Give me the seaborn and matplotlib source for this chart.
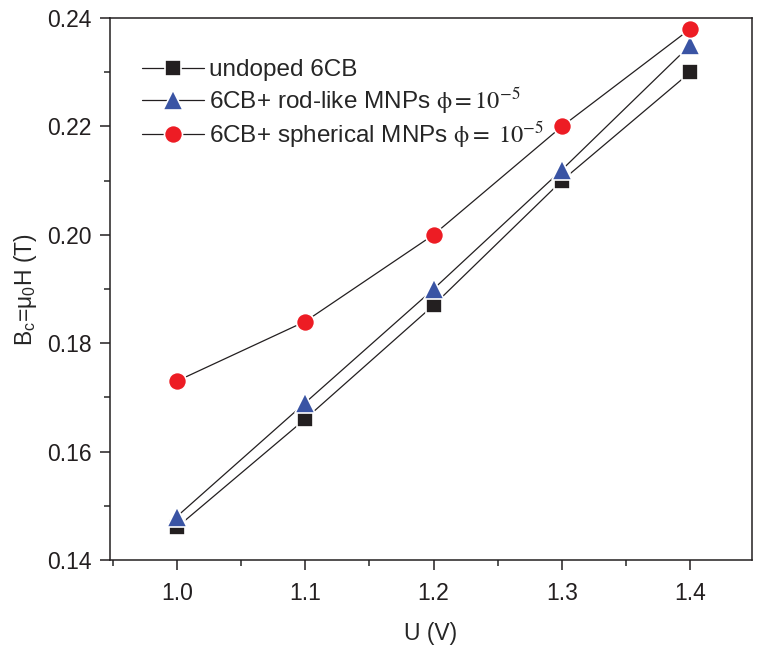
import pandas as pd
import matplotlib
matplotlib.use('Agg')
import matplotlib.pyplot as plt
import seaborn as sns
from matplotlib.ticker import MultipleLocator, FormatStrFormatter

# Datos
voltaje = [1.0, 1.1, 1.2, 1.3, 1.4]
undoped = [0.146, 0.166, 0.187, 0.210, 0.230]
rod_like = [0.148, 0.169, 0.190, 0.212, 0.235]
esferico = [0.173, 0.184, 0.200, 0.220, 0.238]

etiquetas = ['undoped 6CB',
             r'6CB+ rod-like MNPs $\mathrm{\phi{=}10^{-5}}$',
             r'6CB+ spherical MNPs $\mathrm{\phi{=}\ 10^{-5}}$']

sns.set_style('ticks')
plt.rcParams['font.family'] = ['Liberation Sans', 'DejaVu Sans']
plt.rcParams['mathtext.fontset'] = 'stix'
plt.rcParams['mathtext.default'] = 'regular'

fig = plt.figure(figsize=(7.66, 6.47), dpi=100)
ax = fig.add_axes([0.1436, 0.1345, 0.8381, 0.8377])

series = [
    (undoped, etiquetas[0], 's', '#231f20', 11),
    (rod_like, etiquetas[1], '^', '#3a54a4', 14),
    (esferico, etiquetas[2], 'o', '#ed1c24', 13),
]
for valores, etiqueta, marcador, color, tam in series:
    sns.lineplot(x=voltaje, y=valores, ax=ax, label=etiqueta,
                 color='#231f20', linewidth=0.9, marker=marcador,
                 markersize=tam, markerfacecolor=color,
                 markeredgecolor='white', markeredgewidth=1.2)

ax.set_xlim(0.948, 1.448)
ax.set_ylim(0.14, 0.24)
ax.xaxis.set_major_locator(MultipleLocator(0.1))
ax.xaxis.set_minor_locator(MultipleLocator(0.05))
ax.yaxis.set_major_locator(MultipleLocator(0.02))
ax.yaxis.set_minor_locator(MultipleLocator(0.01))
ax.xaxis.set_major_formatter(FormatStrFormatter('%.1f'))
ax.yaxis.set_major_formatter(FormatStrFormatter('%.2f'))
ax.tick_params(which='major', direction='out', length=7, width=1.1, pad=6,
               labelsize=16.5, colors='#231f20', top=False, right=False)
ax.tick_params(axis='x', which='major', pad=9)
ax.tick_params(which='minor', direction='out', length=4, width=1.1,
               top=False, right=False)
for lado in ax.spines.values():
    lado.set_linewidth(1.1)
    lado.set_color('#231f20')

ax.set_xlabel('U (V)', fontsize=16.5, labelpad=12)
ax.set_ylabel(r'B$_c$=μ$_0$H (T)', fontsize=16.5, labelpad=6)

ax.legend(loc='upper left', bbox_to_anchor=(0.05, 0.924), frameon=False,
          fontsize=17.5, handlelength=2.55, borderaxespad=0, borderpad=0,
          labelspacing=0.15, handletextpad=0.2)

plt.savefig('out.png', dpi=100)
